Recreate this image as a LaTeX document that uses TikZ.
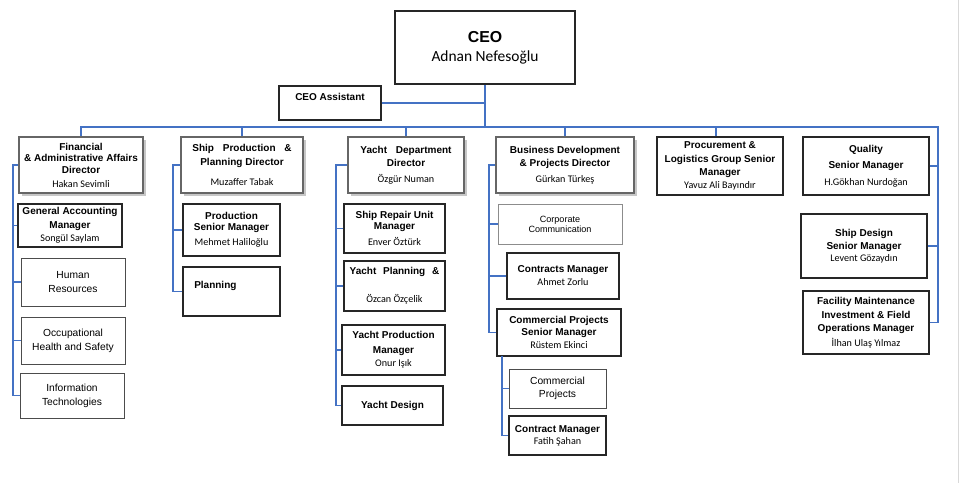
\documentclass[tikz,border=0pt]{standalone}
\usepackage{fontspec}
\setmainfont{Liberation Sans}
\newfontfamily\nmfont{Carlito}
\usetikzlibrary{shadows,calc}
\definecolor{lnblue}{HTML}{4472C4}
\newcommand\nm{\nmfont\mdseries\fontsize{7.6}{9}\selectfont}
\newcommand\obox[7]{%
  \pgfmathsetmacro\cx{(#2+#4)/2}\pgfmathsetmacro\cy{(#3+#5)/2}%
  \pgfmathsetmacro\ww{0.75*(#4-#2)}\pgfmathsetmacro\hh{0.75*(#5-#3)}%
  \node[#6, minimum width=\ww pt, minimum height=\hh pt] (#1) at (\cx,\cy) {#7};}
\tikzset{
  conn/.style={draw=lnblue, line width=1.25pt},
  bx/.style={draw=black!85, line width=0.9pt, fill=white, inner sep=1pt, align=center, text=black,
    font=\fontsize{7.5}{10}\selectfont\bfseries},
  dirbox/.style={bx, draw=black!60, line width=1.6pt,
    drop shadow={shadow xshift=2.2pt, shadow yshift=-2.2pt, fill=black!22, opacity=1}},
  ceobox/.style={bx, draw=black!85, line width=2.2pt},
  plainbox/.style={bx, draw=black!70, line width=0.7pt, font=\fontsize{7.7}{10.5}\selectfont},
  smallbox/.style={bx, draw=black!45, line width=0.7pt, font=\fontsize{6.8}{7.5}\selectfont},
  thickbox/.style={bx, line width=1.3pt},
  txt/.style={inner sep=0pt, font=\fontsize{7.5}{10}\selectfont\bfseries, text=black}
}
\begin{document}
\begin{tikzpicture}[x=0.75pt, y=-0.75pt]
\useasboundingbox (0,0) rectangle (960,483);
\fill[white] (0,0) rectangle (960,483);
\draw[black!15, line width=0.8pt] (958.5,0) -- (958.5,483);

% top
\obox{ceo}{395}{11}{575}{84}{ceobox}{{\fontsize{11.9}{15}\selectfont CEO}\\[4pt]{\nmfont\mdseries\fontsize{11.6}{13}\selectfont Adnan Nefesoğlu}}
\obox{asst}{279}{86}{381}{120}{bx}{}
\node[txt] (asstT) at (330,97) {CEO Assistant};

% directors row
\obox{fin}{19}{137}{143}{193}{dirbox}{Financial\\[-1.4pt]\& Administrative Affairs\\[-1.4pt]Director\\[0.5pt]{\nm Hakan Sevimli}}
\obox{ship}{181}{137}{303}{193}{dirbox}{Ship\hspace{4.5pt} Production\hspace{4.5pt} \&\\Planning Director\\[5pt]{\nm Muzaffer Tabak}}
\obox{ydept}{348}{137}{464}{193}{dirbox}{Yacht\hspace{4.5pt} Department\\Director\\[2pt]{\nm Özgür Numan}}
\obox{bdev}{496}{137}{634}{193}{dirbox}{Business Development\\\& Projects Director\\[2pt]{\nm Gürkan Türkeş}}
\obox{proc}{657}{137}{783}{195}{bx}{Procurement \&\\Logistics Group Senior\\Manager\\[-0.5pt]{\nm Yavuz Ali Bayındır}}
\obox{qual}{803}{137}{929}{195}{bx}{Quality\\[2pt]Senior Manager\\[3pt]{\nm H.Gökhan Nurdoğan}}

% column 1
\obox{gam}{18}{204}{122}{247}{bx}{General Accounting\\[0.5pt]Manager\\[-0.3pt]{\nm Songül Saylam}}
\obox{hr}{21}{258}{125}{306}{plainbox}{Human\\Resources}
\obox{ohs}{21}{317}{125}{364}{plainbox}{Occupational\\Health and Safety}
\obox{it}{20}{373}{124}{418}{plainbox}{Information\\Technologies}

% column 2
\obox{psm}{183}{204}{280}{256}{bx}{Production\\[-1.7pt]Senior Manager\\[1.5pt]{\nm Mehmet Haliloğlu}}
\obox{plan}{183}{267}{280}{316}{bx}{}
\node[txt, anchor=west] (planT) at (194,286) {Planning};

% column 3
\obox{srum}{344}{204}{445}{253}{bx}{Ship Repair Unit\\[-1.7pt]Manager\\[2.5pt]{\nm Enver Öztürk}}
\obox{ypl}{344}{261}{445}{311}{bx}{Yacht\hspace{3pt} Planning\hspace{3pt} \&\\[11pt]{\nm Özcan Özçelik}}
\obox{ypm}{342}{325}{445}{375}{bx}{Yacht Production\\[1pt]Manager\\[0.2pt]{\nm Onur Işık}}
\obox{yd}{342}{386}{443}{425}{bx}{Yacht Design}

% column 4
\obox{cc}{498}{204}{622}{244}{smallbox}{Corporate\\Communication}
\obox{cm}{507}{253}{619}{299}{bx}{Contracts Manager\\[-0.3pt]{\nm Ahmet Zorlu}}
\obox{cpsm}{497}{309}{621}{356}{thickbox}{Commercial Projects\\[-1pt]Senior Manager\\[-0.3pt]{\nm Rüstem Ekinci}}
\obox{cp}{509}{369}{606}{408}{plainbox}{Commercial\\[-0.7pt]Projects}
\obox{ctm}{509}{416}{606}{455}{bx}{Contract Manager\\[-1pt]{\nm Fatih Şahan}}

% right column
\obox{sdsm}{801}{214}{927}{278}{bx}{Ship Design\\[-0.3pt]Senior Manager\\[-1pt]{\nm Levent Gözaydın}}
\obox{fac}{803}{291}{929}{354}{bx}{Facility Maintenance\\[0.5pt]Investment \& Field\\[-0.3pt]Operations Manager\\[1pt]{\nm İlhan Ulaş Yılmaz}}

% connectors
\coordinate (busR) at (938,127);
\draw[conn] (ceo.south) -- (ceo.south |- busR);
\draw[conn] (asst.east) -- (asst.east -| ceo.south);
\draw[conn] (fin.north) |- (busR) |- (fac.east);
\draw[conn] (ship.north) -- (ship.north |- busR);
\draw[conn] (ydept.north) -- (ydept.north |- busR);
\draw[conn] (bdev.north) -- (bdev.north |- busR);
\draw[conn] ($(proc.north)+(-4,0)$) -- ($(proc.north |- busR)+(-4,0)$);
\draw[conn] (qual.east) -- (qual.east -| busR);
\draw[conn] (sdsm.east) -- (sdsm.east -| busR);

\coordinate (c1) at (13,165);
\draw[conn] (fin.west |- c1) -- (c1) |- (it.west);
\draw[conn] (gam.west) -- (gam.west -| c1);
\draw[conn] (hr.west) -- (hr.west -| c1);
\draw[conn] (ohs.west) -- (ohs.west -| c1);

\coordinate (c2) at (173,165);
\draw[conn] (ship.west |- c2) -- (c2) |- (plan.west);
\draw[conn] (psm.west) -- (psm.west -| c2);

\coordinate (c3) at (336,165);
\draw[conn] (ydept.west |- c3) -- (c3) |- (yd.west);
\draw[conn] (srum.west) -- (srum.west -| c3);
\draw[conn] (ypl.west) -- (ypl.west -| c3);
\draw[conn] (ypm.west) -- (ypm.west -| c3);

\coordinate (c4) at (489,165);
\draw[conn] (bdev.west |- c4) -- (c4) |- (cpsm.west);
\draw[conn] (cc.west) -- (cc.west -| c4);
\draw[conn] (cm.west) -- (cm.west -| c4);

\coordinate (c5) at (502,356);
\draw[conn] (c5) |- (ctm.west);
\draw[conn] (cp.west) -- (cp.west -| c5);
\end{tikzpicture}
\end{document}
